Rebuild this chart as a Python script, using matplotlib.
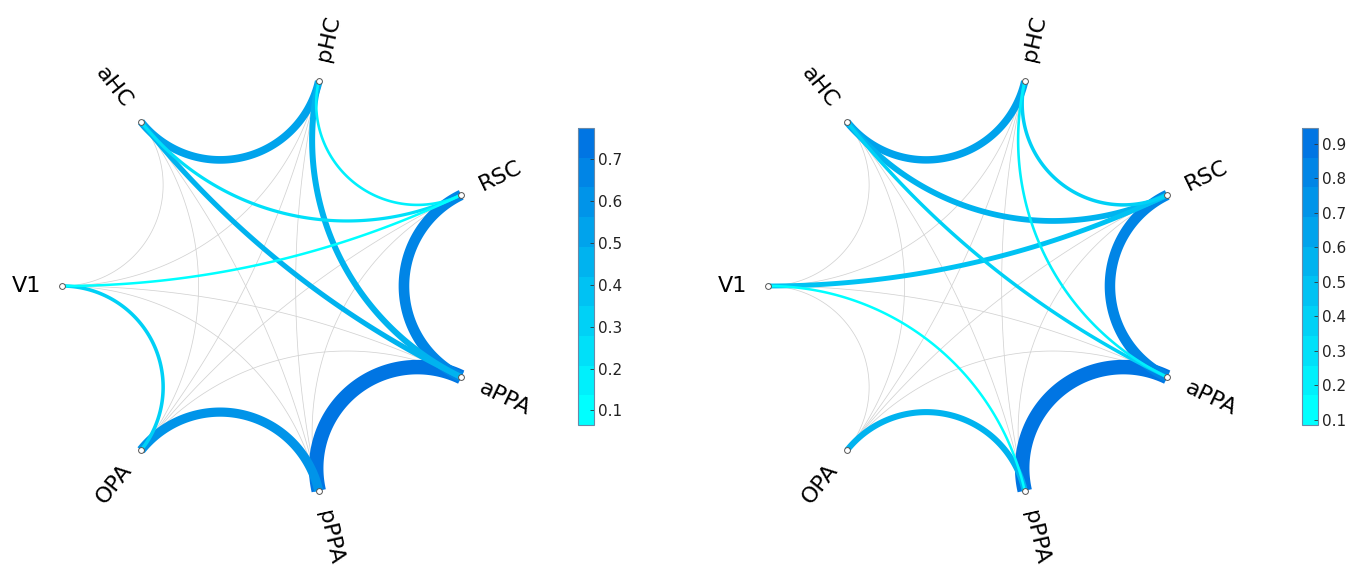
import numpy as np
import matplotlib.pyplot as plt
from matplotlib.colors import ListedColormap, Normalize
from matplotlib.cm import ScalarMappable
from itertools import combinations

nodes = ['V1', 'aHC', 'pHC', 'RSC', 'aPPA', 'pPPA', 'OPA']

# connections above threshold, condition 1
pairs_1 = [('aPPA', 'pPPA'), ('RSC', 'aPPA'), ('pPPA', 'OPA'), ('aHC', 'pHC'),
           ('pHC', 'aPPA'), ('aHC', 'aPPA'), ('V1', 'OPA'), ('aHC', 'RSC'),
           ('pHC', 'RSC'), ('V1', 'RSC')]
weights_1 = [0.775, 0.66, 0.61, 0.55, 0.47, 0.42, 0.30, 0.26, 0.15, 0.065]
ticks_1 = [0.1, 0.2, 0.3, 0.4, 0.5, 0.6, 0.7]

# connections above threshold, condition 2
pairs_2 = [('aPPA', 'pPPA'), ('RSC', 'aPPA'), ('aHC', 'pHC'), ('pPPA', 'OPA'),
           ('aHC', 'RSC'), ('V1', 'RSC'), ('aHC', 'aPPA'), ('pHC', 'RSC'),
           ('pHC', 'aPPA'), ('V1', 'pPPA')]
weights_2 = [0.945, 0.80, 0.66, 0.58, 0.56, 0.50, 0.36, 0.36, 0.18, 0.085]
ticks_2 = [0.1, 0.2, 0.3, 0.4, 0.5, 0.6, 0.7, 0.8, 0.9]

W, H = 1360, 570
R = 210.0
c0 = np.array([0.0, 1.0, 1.0])
c1 = np.array([0.0, 0.46, 0.89])
cmap = ListedColormap([c0 + (c1 - c0) * k / 9 for k in range(10)])

theta = np.deg2rad(180 - np.arange(len(nodes)) * 360 / len(nodes))
ang = dict(zip(nodes, theta))


def arc(ti, tj, n=120):
    # circle through both nodes, orthogonal to the unit circle
    u = np.array([np.cos(ti), np.sin(ti)])
    v = np.array([np.cos(tj), np.sin(tj)])
    den = u[0] * v[1] - u[1] * v[0]
    x0 = -(u[1] - v[1]) / den
    y0 = (u[0] - v[0]) / den
    r = np.sqrt(x0 ** 2 + y0 ** 2 - 1)
    a1 = np.arctan2(u[1] - y0, u[0] - x0)
    a2 = np.arctan2(v[1] - y0, v[0] - x0)
    d = (a2 - a1 + np.pi) % (2 * np.pi) - np.pi
    s = a1 + d * np.linspace(0, 1, n)
    return x0 + r * np.cos(s), y0 + r * np.sin(s)


def circ_graph(cx, x_lo, x_hi, pairs, weights, ticks, cb_x):
    cy = 286.0
    ax = fig.add_axes([x_lo / W, 0, (x_hi - x_lo) / W, 1])
    ax.set_xlim(-(cx - x_lo) / R, (x_hi - cx) / R)
    ax.set_ylim(-(H - cy) / R, cy / R)
    ax.axis('off')

    wmin, wmax = min(weights), max(weights)
    norm = Normalize(wmin, wmax)
    strong = {frozenset(p) for p in pairs}

    for a, b in combinations(nodes, 2):
        if frozenset((a, b)) in strong:
            continue
        x, y = arc(ang[a], ang[b])
        ax.plot(x, y, color='#d2d2d2', lw=0.55, zorder=1)

    for (a, b), w in sorted(zip(pairs, weights), key=lambda t: -t[1]):
        f = (w - wmin) / (wmax - wmin)
        lw_px = 2.5 + 12 * f ** 2.2
        x, y = arc(ang[a], ang[b])
        ax.plot(x, y, color=cmap(norm(w)), lw=lw_px * 0.72,
                solid_capstyle='butt', zorder=2)

    ax.plot(np.cos(theta), np.sin(theta), 'o', ms=4.2, mfc='white',
            mec='#555555', mew=0.7, zorder=5)

    for name, t in zip(nodes, theta):
        x, y = 1.1 * np.cos(t), 1.1 * np.sin(t)
        deg = np.rad2deg(t)
        if np.cos(t) < -1e-6:
            rot, ha = deg - 180, 'right'
        else:
            rot, ha = deg, 'left'
        ax.text(x, y, name, rotation=rot, ha=ha, va='center',
                rotation_mode='anchor', fontsize=16, color='black')

    cax = fig.add_axes([cb_x / W, (H - 425) / H, 16 / W, 297 / H])
    cb = fig.colorbar(ScalarMappable(norm=norm, cmap=cmap), cax=cax)
    cb.set_ticks(ticks)
    cb.ax.set_yticklabels([f'{t:.1f}' for t in ticks])
    cb.ax.tick_params(direction='in', length=3, width=0.6, labelsize=11,
                      labelcolor='#222222', color='#333333', pad=3)
    cb.outline.set_edgecolor('#6a8aa8')
    cb.outline.set_linewidth(0.8)


fig = plt.figure(figsize=(W / 100, H / 100), dpi=100)
circ_graph(272, 0, 560, pairs_1, weights_1, ticks_1, 578)
circ_graph(978, 690, 1280, pairs_2, weights_2, ticks_2, 1302)
fig.savefig('out.png', dpi=100)
